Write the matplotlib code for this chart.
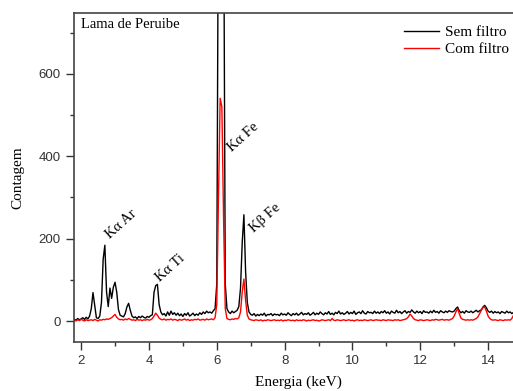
import numpy as np
import matplotlib.pyplot as plt
from matplotlib.ticker import MultipleLocator

# energia dos canais (keV), passo de 0.05
energia = np.round(np.arange(1.80, 14.76, 0.05), 2)

# contagens - sem filtro
sem_filtro = [
    4, 2, 6, 3, 5, 8, 4, 9, 5, 12, 30, 69, 38, 8, 6, 12, 45, 150, 184, 70,
    35, 80, 55, 82, 94, 70, 28, 14, 12, 10, 18, 34, 43, 26, 12, 8, 10, 6, 11, 8,
    12, 9, 7, 11, 9, 13, 15, 70, 86, 89, 40, 22, 15, 18, 12, 22, 14, 24, 16, 20,
    14, 19, 13, 17, 11, 18, 14, 20, 12, 15, 19, 13, 17, 14, 20, 16, 22, 18, 24, 20,
    22, 19, 25, 30, 90, 1100, 1600, 1800, 1100, 90, 30, 22, 18, 24, 20, 23, 26, 35, 80, 190,
    258, 120, 45, 22, 16, 14, 18, 12, 16, 13, 17, 14, 19, 12, 16, 15, 18, 13, 17, 15,
    16, 13, 19, 15, 17, 14, 20, 16, 13, 18, 15, 19, 14, 17, 21, 15, 18, 16, 20, 14,
    17, 21, 15, 19, 16, 22, 18, 15, 20, 17, 23, 16, 19, 15, 21, 18, 24, 17, 20, 16,
    19, 23, 17, 21, 18, 24, 16, 20, 22, 18, 25, 19, 17, 23, 20, 21, 18, 24, 19, 22,
    18, 23, 20, 25, 19, 22, 17, 24, 21, 19, 26, 20, 23, 18, 22, 25, 19, 23, 21, 27,
    22, 19, 24, 20, 23, 18, 25, 21, 22, 19, 24, 20, 26, 21, 23, 19, 25, 22, 20, 24,
    21, 25, 23, 22, 24, 30, 34, 25, 20, 23, 19, 25, 22, 21, 24, 20, 23, 26, 22, 25,
    27, 34, 38, 32, 24, 21, 24, 19, 23, 20, 22, 18, 23, 21, 19, 24, 20, 22, 18, 21,
]

# contagens - com filtro
com_filtro = [
    2, 0, 3, 1, 4, 2, 0, 3, 1, 2, 3, 1, 4, 2, 0, 3, 2, 4, 3, 5,
    4, 6, 8, 12, 16, 9, 5, 3, 4, 2, 5, 3, 6, 4, 2, 3, 1, 4, 2, 3,
    1, 3, 2, 4, 2, 3, 6, 12, 19, 14, 7, 4, 3, 5, 2, 4, 3, 5, 2, 4,
    3, 1, 4, 2, 3, 5, 2, 4, 1, 3, 2, 4, 3, 5, 2, 3, 4, 2, 5, 3,
    4, 5, 3, 8, 40, 300, 541, 520, 250, 30, 6, 4, 3, 5, 4, 6, 5, 8, 22, 70,
    102, 50, 14, 5, 3, 2, 1, 3, 2, 1, 3, 0, 2, 1, 3, 2, 1, 2, 3, 1,
    2, 1, 3, 0, 2, 1, 3, 2, 1, 2, 0, 3, 1, 2, 1, 3, 2, 0, 2, 1,
    2, 3, 1, 2, 0, 1, 3, 2, 1, 2, 3, 1, 6, 2, 1, 3, 2, 1, 2, 3,
    1, 2, 3, 1, 2, 0, 2, 3, 1, 2, 1, 3, 2, 1, 2, 3, 1, 2, 3, 2,
    2, 1, 3, 2, 1, 3, 2, 2, 1, 3, 2, 3, 1, 2, 3, 4, 6, 10, 17, 12,
    6, 3, 2, 1, 3, 2, 1, 2, 3, 2, 1, 3, 2, 4, 3, 2, 3, 4, 2, 3,
    3, 2, 4, 6, 12, 22, 30, 18, 7, 4, 3, 2, 3, 2, 3, 2, 4, 6, 10, 18,
    26, 33, 34, 24, 12, 6, 3, 2, 3, 2, 1, 3, 2, 1, 3, 2, 3, 2, 6, 14,
]

# rótulos dos picos: texto, energia, contagem
picos = ['Kα Ar', 'Kα Ti', 'Kα Fe', 'Kβ Fe']
picos_x = [3.18, 4.64, 6.78, 7.43]
picos_y = [236, 129, 447, 250]

serif = ['Liberation Serif', 'DejaVu Serif']
sans = ['Liberation Sans', 'DejaVu Sans']
cinza = '#333333'

fig = plt.figure(figsize=(5.13, 3.91), dpi=100)
ax = fig.add_axes([74 / 513, 49 / 391, 448 / 513, 329 / 391])

ax.plot(energia, sem_filtro, color='black', lw=1.0, label='Sem filtro')
ax.plot(energia, com_filtro, color='red', lw=1.0, label='Com filtro')

ax.set_xlim(1.79, 15)
ax.set_ylim(-51, 748)

ax.xaxis.set_major_locator(MultipleLocator(2))
ax.xaxis.set_minor_locator(MultipleLocator(1))
ax.yaxis.set_major_locator(MultipleLocator(200))
ax.yaxis.set_minor_locator(MultipleLocator(100))
ax.tick_params(which='major', length=6, width=1, color=cinza, labelcolor=cinza, labelsize=9.5)
ax.tick_params(which='minor', length=3, width=1, color=cinza)
for lab in ax.get_xticklabels() + ax.get_yticklabels():
    lab.set_family(sans)
for s in ax.spines.values():
    s.set_color('#444444')
    s.set_linewidth(1.2)

ax.set_xlabel('Energia (keV)', family=serif, fontsize=11, labelpad=6)
ax.set_ylabel('Contagem', family=serif, fontsize=11, labelpad=10)

ax.text(0.015, 0.985, 'Lama de Peruibe', transform=ax.transAxes, ha='left', va='top',
        family=serif, fontsize=10.5)

for txt, px, py in zip(picos, picos_x, picos_y):
    ax.text(px, py, txt, rotation=42, ha='center', va='center', rotation_mode='anchor',
            family=serif, fontsize=10.5)

leg = ax.legend(loc='upper left', bbox_to_anchor=(395 / 513, 1 - 16 / 391),
                bbox_transform=fig.transFigure, frameon=False, handlelength=2.3,
                handletextpad=0.35, labelspacing=0.25, borderaxespad=0.2,
                prop={'family': serif, 'size': 11})

fig.savefig('out.png', dpi=100)
